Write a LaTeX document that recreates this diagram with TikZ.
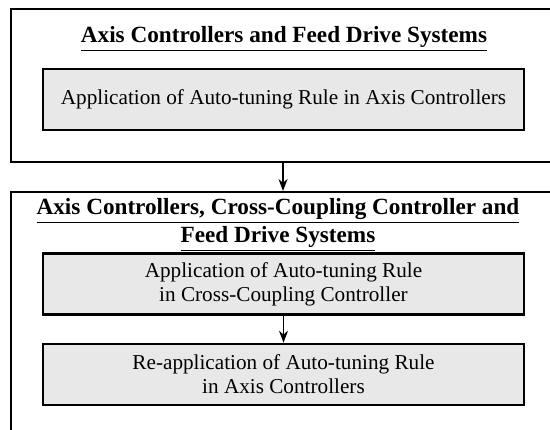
\documentclass[tikz,border=0pt]{standalone}
\usepackage{fontspec}
\setmainfont{Liberation Serif}
\usetikzlibrary{positioning, arrows.meta}

\begin{document}
\begin{tikzpicture}[x=0.5pt, y=-0.5pt, >={Stealth[length=6pt, width=4.5pt]},
  stage/.style={draw, line width=1pt, minimum width=272pt, inner sep=0pt},
  rulebox/.style={draw, line width=1.3pt, fill=black!9, align=center, minimum width=240.5pt, minimum height=30.5pt, inner sep=0pt, font=\fontsize{10.6}{12}\selectfont},
  heading/.style={align=center, inner sep=0pt, font=\bfseries\fontsize{11.6}{12.5}\selectfont}]

\clip (0,0) rectangle (550,429);

% first stage: axis controllers only
\node[stage, minimum height=76.5pt] (stageA) at (283,85.5) {};
\node[heading] (titleA) at (284,39) {\underline{Axis Controllers and Feed Drive Systems}};
\node[rulebox] (tuneAxis) at (283.5,99.5) {Application of Auto-tuning Rule in Axis Controllers};

% second stage: with cross-coupling controller
\node[stage, minimum height=124pt] (stageB) at (283,316) {};
\node[heading] (titleB) at (278,225) {\underline{Axis Controllers, Cross-Coupling Controller and}\\\underline{Feed Drive Systems}};
\node[rulebox] (tuneCross) at (283.5,284) {Application of Auto-tuning Rule\\in Cross-Coupling Controller};
\node[rulebox] (retuneAxis) at (283.5,374.5) {Re-application of Auto-tuning Rule\\in Axis Controllers};

% arrows
\draw[->, line width=0.8pt] (stageA.south) -- (stageB.north);
\draw[->, line width=0.8pt] (tuneCross.south) -- (retuneAxis.north);

\end{tikzpicture}
\end{document}
